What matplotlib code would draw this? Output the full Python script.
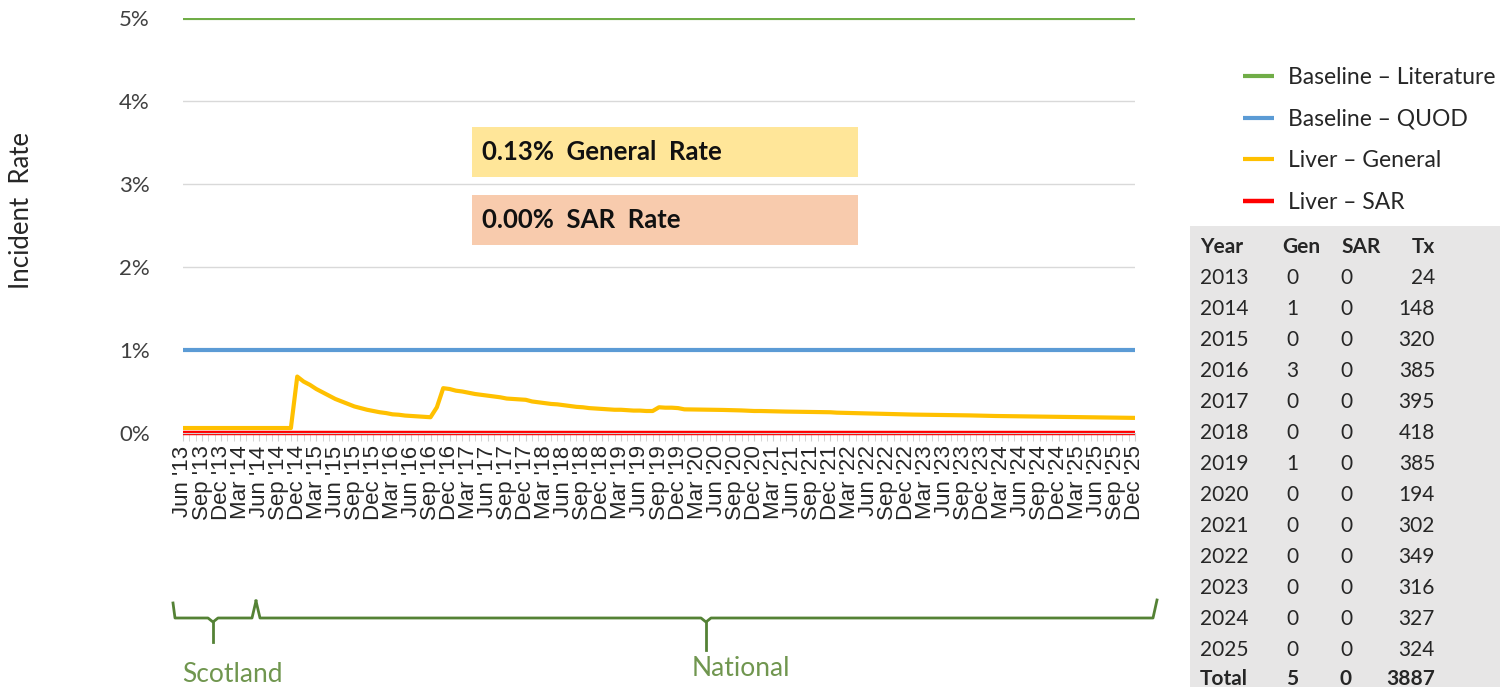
import matplotlib
matplotlib.use("Agg")
import matplotlib.pyplot as plt
from matplotlib.patches import Rectangle
import numpy as np
import pandas as pd

# months on the x axis (Jun 2013 .. Dec 2025)
months = pd.date_range("2013-06-01", "2025-12-01", freq="MS")

# Liver - General cumulative incident rate (%), one list per year
gen_2013 = [0.06, 0.06, 0.06, 0.06, 0.06, 0.06, 0.06]
gen_2014 = [0.06, 0.06, 0.06, 0.06, 0.06, 0.06, 0.06, 0.06, 0.06, 0.06, 0.06, 0.68]
gen_2015 = [0.62, 0.58, 0.53, 0.49, 0.45, 0.41, 0.38, 0.35, 0.32, 0.30, 0.28, 0.265]
gen_2016 = [0.25, 0.24, 0.225, 0.22, 0.21, 0.205, 0.20, 0.195, 0.19, 0.31, 0.54, 0.53]
gen_2017 = [0.51, 0.50, 0.485, 0.47, 0.46, 0.45, 0.44, 0.43, 0.415, 0.41, 0.405, 0.40]
gen_2018 = [0.38, 0.37, 0.36, 0.35, 0.345, 0.335, 0.325, 0.315, 0.31, 0.30, 0.295, 0.29]
gen_2019 = [0.285, 0.28, 0.28, 0.275, 0.27, 0.27, 0.265, 0.265, 0.31, 0.305, 0.305, 0.30]
gen_2020 = [0.285, 0.284, 0.283, 0.282, 0.281, 0.28, 0.278, 0.276, 0.274, 0.272, 0.268, 0.265]
gen_2021 = [0.265, 0.263, 0.262, 0.26, 0.258, 0.257, 0.255, 0.254, 0.253, 0.252, 0.251, 0.25]
gen_2022 = [0.245, 0.243, 0.24, 0.238, 0.236, 0.234, 0.232, 0.23, 0.228, 0.226, 0.225, 0.224]
gen_2023 = [0.222, 0.221, 0.22, 0.219, 0.218, 0.217, 0.216, 0.215, 0.214, 0.212, 0.21, 0.208]
gen_2024 = [0.206, 0.205, 0.204, 0.203, 0.202, 0.201, 0.2, 0.199, 0.198, 0.197, 0.196, 0.195]
gen_2025 = [0.193, 0.192, 0.191, 0.19, 0.189, 0.188, 0.187, 0.186, 0.185, 0.184, 0.183, 0.182]
liver_general = (gen_2013 + gen_2014 + gen_2015 + gen_2016 + gen_2017 + gen_2018 + gen_2019
                 + gen_2020 + gen_2021 + gen_2022 + gen_2023 + gen_2024 + gen_2025)

baseline_literature = 5.0
baseline_quod = 1.0
liver_sar = 0.0

# yearly table
years = [2013, 2014, 2015, 2016, 2017, 2018, 2019, 2020, 2021, 2022, 2023, 2024, 2025]
gen_counts = [0, 1, 0, 3, 0, 0, 1, 0, 0, 0, 0, 0, 0]
sar_counts = [0, 0, 0, 0, 0, 0, 0, 0, 0, 0, 0, 0, 0]
tx_counts = [24, 148, 320, 385, 395, 418, 385, 194, 302, 349, 316, 327, 324]

plt.rcParams['font.family'] = ['Lato', 'DejaVu Sans']

W, H = 1500, 687
fig = plt.figure(figsize=(15, 6.87), dpi=100)

# overlay in pixel coords for table / brackets
ov = fig.add_axes([0, 0, 1, 1])
ov.set_xlim(0, W)
ov.set_ylim(H, 0)
ov.axis("off")

x0, x1, y0, y5 = 183, 1135, 433, 18
ax = fig.add_axes([x0 / W, 1 - y0 / H, (x1 - x0) / W, (y0 - y5) / H])
ax.set_facecolor("none")

n = len(months)
x = np.arange(n)
lw = 3.0
ax.plot(x, np.full(n, baseline_literature), color="#70AD47", lw=lw, label="Baseline \u2013 Literature", solid_capstyle="butt")
ax.plot(x, np.full(n, baseline_quod), color="#5B9BD5", lw=lw, label="Baseline \u2013 QUOD", solid_capstyle="butt")
ax.plot(x, liver_general, color="#FFC000", lw=lw, label="Liver \u2013 General", solid_capstyle="butt")
ax.plot(x, np.full(n, liver_sar), color="#FF0000", lw=3.2, label="Liver \u2013 SAR", solid_capstyle="butt", clip_on=False)

ax.set_xlim(0, n - 1)
ax.set_ylim(0, 5)
ax.set_yticks([0, 1, 2, 3, 4, 5])
ax.set_yticklabels([f"{v}%" for v in range(6)], fontsize=16, color="#404040")
ax.yaxis.grid(True, color="#d9d9d9", lw=1)
ax.set_axisbelow(True)
ax.tick_params(axis="y", length=0, pad=24)

major = x[::3]
ax.set_xticks(major)
ax.set_xticklabels([m.strftime("%b '%y") for m in months[::3]], rotation=90,
                   fontsize=16, fontfamily="Liberation Sans", color="#262626")
ax.set_xticks(x, minor=True)
ax.tick_params(axis="x", which="both", length=6, color="#d0d0d0", pad=3)
for s in ["top", "right", "left"]:
    ax.spines[s].set_visible(False)
ax.spines["bottom"].set_color("#d0d0d0")

# rate boxes
gen_rate = sum(gen_counts) / sum(tx_counts) * 100
sar_rate = sum(sar_counts) / sum(tx_counts) * 100
ax.add_patch(Rectangle((0.3036, 0.617), 0.4055, 0.120, transform=ax.transAxes,
                       facecolor="#FFE699", edgecolor="none", zorder=3))
ax.add_patch(Rectangle((0.3036, 0.453), 0.4055, 0.120, transform=ax.transAxes,
                       facecolor="#F8CBAD", edgecolor="none", zorder=3))
ax.text(0.3141, 0.677, f"{gen_rate:.2f}%  General  Rate", transform=ax.transAxes,
        fontsize=18.5, fontweight="bold", va="center", zorder=4, color="#111111")
ax.text(0.3141, 0.513, f"{sar_rate:.2f}%  SAR  Rate", transform=ax.transAxes,
        fontsize=18.5, fontweight="bold", va="center", zorder=4, color="#111111")

fig.text(22 / W, 1 - 210 / H, "Incident  Rate", rotation=90, fontsize=18.5,
         va="center", ha="center", color="#262626")

leg = fig.legend(loc="upper left", bbox_to_anchor=(1243 / W, 1 - 67 / H), frameon=False,
                 fontsize=16.5, handlelength=1.35, handletextpad=0.6, labelspacing=0.9,
                 borderaxespad=0, borderpad=0)
for t in leg.get_texts():
    t.set_color("#262626")

# table
ov.add_patch(Rectangle((1190, 226), W - 1190, H - 226, facecolor="#E7E6E6", edgecolor="none"))
tkw = dict(fontsize=15, va="center", color="#262626")
ov.text(1200, 247, "Year", fontweight="bold", ha="left", **tkw)
ov.text(1282, 247, "Gen", fontweight="bold", ha="left", **tkw)
ov.text(1341, 247, "SAR", fontweight="bold", ha="left", **tkw)
ov.text(1435, 247, "Tx", fontweight="bold", ha="right", **tkw)
for i, (yr, g, s, t) in enumerate(zip(years, gen_counts, sar_counts, tx_counts)):
    yy = 278 + 31 * i
    ov.text(1200, yy, str(yr), ha="left", **tkw)
    ov.text(1286, yy, str(g), ha="left", **tkw)
    ov.text(1340, yy, str(s), ha="left", **tkw)
    ov.text(1435, yy, str(t), ha="right", **tkw)
totkw = dict(fontsize=15, va="baseline", color="#262626", fontweight="bold")
yb = 685
ov.text(1200, yb, "Total", ha="left", **totkw)
ov.text(1292, yb, str(sum(gen_counts)), ha="center", **totkw)
ov.text(1346, yb, str(sum(sar_counts)), ha="center", **totkw)
ov.text(1435, yb, str(sum(tx_counts)), ha="right", **totkw)

# region brackets
bc = "#548235"
ov.plot([173, 175, 208, 213, 218, 252, 256], [603, 618, 618, 622, 618, 618, 601], color=bc, lw=2)
ov.plot([213, 213], [622, 642], color=bc, lw=2)
ov.plot([256, 260, 701, 706, 711, 1153, 1157], [601, 618, 618, 622, 618, 618, 600], color=bc, lw=2)
ov.plot([706, 706], [622, 650], color=bc, lw=2)
ov.text(182, 674, "Scotland", fontsize=19, color="#70964f", ha="left", va="center")
ov.text(692, 669, "National", fontsize=19, color="#70964f", ha="left", va="center")

fig.savefig("out.png", dpi=100)
